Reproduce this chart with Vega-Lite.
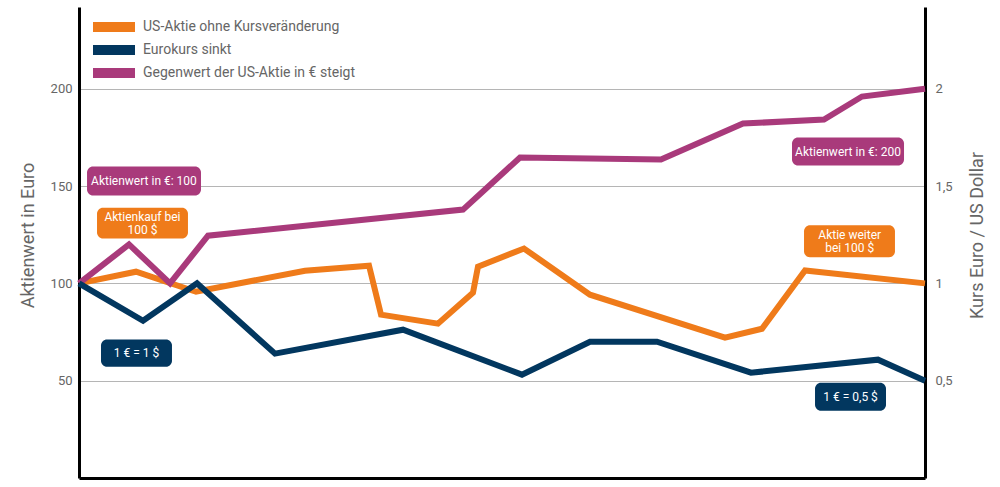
{
  "$schema": "https://vega.github.io/schema/vega-lite/v6.json",
  "width": 846,
  "height": 471,
  "autosize": {"type": "none"},
  "padding": {"left": 79, "top": 7, "right": 75, "bottom": 9},
  "background": "white",
  "config": {
    "view": {"stroke": null},
    "font": "Roboto",
    "axis": {
      "labelFont": "Roboto", "titleFont": "Roboto",
      "labelColor": "#666666", "titleColor": "#666666",
      "labelFontSize": 13, "titleFontSize": 18, "titleFontWeight": "normal",
      "domainColor": "#000000", "domainWidth": 3, "ticks": false,
      "gridColor": "#b5b5b5", "gridWidth": 1
    },
    "axisX": {"labels": false, "grid": false, "title": null},
    "legend": {"labelFont": "Roboto"}
  },
  "datasets": {
    "lines": [
      {"series": "US-Aktie ohne Kursveränderung", "t": 0, "v": 100},
      {"series": "US-Aktie ohne Kursveränderung", "t": 6.74, "v": 106},
      {"series": "US-Aktie ohne Kursveränderung", "t": 13.83, "v": 95.7},
      {"series": "US-Aktie ohne Kursveränderung", "t": 26.71, "v": 106.5},
      {"series": "US-Aktie ohne Kursveränderung", "t": 34.28, "v": 109.1},
      {"series": "US-Aktie ohne Kursveränderung", "t": 35.7, "v": 83.9},
      {"series": "US-Aktie ohne Kursveränderung", "t": 42.43, "v": 79.3},
      {"series": "US-Aktie ohne Kursveränderung", "t": 46.57, "v": 95.2},
      {"series": "US-Aktie ohne Kursveränderung", "t": 47.16, "v": 108.6},
      {"series": "US-Aktie ohne Kursveränderung", "t": 52.6, "v": 117.9},
      {"series": "US-Aktie ohne Kursveränderung", "t": 60.4, "v": 94.2},
      {"series": "US-Aktie ohne Kursveränderung", "t": 76.36, "v": 72.1},
      {"series": "US-Aktie ohne Kursveränderung", "t": 80.73, "v": 76.7},
      {"series": "US-Aktie ohne Kursveränderung", "t": 85.82, "v": 106.6},
      {"series": "US-Aktie ohne Kursveränderung", "t": 100, "v": 100},
      {"series": "Gegenwert der US-Aktie in € steigt", "t": 0, "v": 100},
      {"series": "Gegenwert der US-Aktie in € steigt", "t": 5.91, "v": 120},
      {"series": "Gegenwert der US-Aktie in € steigt", "t": 10.76, "v": 100},
      {"series": "Gegenwert der US-Aktie in € steigt", "t": 15.25, "v": 124.5},
      {"series": "Gegenwert der US-Aktie in € steigt", "t": 45.39, "v": 137.9},
      {"series": "Gegenwert der US-Aktie in € steigt", "t": 52.13, "v": 164.7},
      {"series": "Gegenwert der US-Aktie in € steigt", "t": 68.79, "v": 163.6},
      {"series": "Gegenwert der US-Aktie in € steigt", "t": 78.49, "v": 182.1},
      {"series": "Gegenwert der US-Aktie in € steigt", "t": 88.06, "v": 184.2},
      {"series": "Gegenwert der US-Aktie in € steigt", "t": 92.55, "v": 196},
      {"series": "Gegenwert der US-Aktie in € steigt", "t": 100, "v": 200}
    ],
    "fx": [
      {"series": "Eurokurs sinkt", "t": 0, "rate": 1.0},
      {"series": "Eurokurs sinkt", "t": 7.57, "rate": 0.808},
      {"series": "Eurokurs sinkt", "t": 13.95, "rate": 1.0},
      {"series": "Eurokurs sinkt", "t": 23.17, "rate": 0.639},
      {"series": "Eurokurs sinkt", "t": 38.3, "rate": 0.762},
      {"series": "Eurokurs sinkt", "t": 52.36, "rate": 0.531},
      {"series": "Eurokurs sinkt", "t": 60.4, "rate": 0.7},
      {"series": "Eurokurs sinkt", "t": 68.32, "rate": 0.7},
      {"series": "Eurokurs sinkt", "t": 79.43, "rate": 0.541},
      {"series": "Eurokurs sinkt", "t": 94.44, "rate": 0.608},
      {"series": "Eurokurs sinkt", "t": 100, "rate": 0.5}
    ],
    "notes": [
      {"label": "Aktienwert in €: 100", "series": "Gegenwert der US-Aktie in € steigt", "x1": 0.95, "x2": 14.42, "y1": 145.1, "y2": 160.0, "tx": 7.68, "ty": 152.6},
      {"label": "Aktienkauf bei|100 $", "series": "US-Aktie ohne Kursveränderung", "x1": 2.13, "x2": 12.88, "y1": 123.0, "y2": 138.9, "tx": 7.5, "ty": 134.3},
      {"label": "1 € = 1 $", "series": "Eurokurs sinkt", "x1": 2.6, "x2": 10.99, "y1": 57.2, "y2": 71.1, "tx": 6.8, "ty": 64.1},
      {"label": "1 € = 0,5 $", "series": "Eurokurs sinkt", "x1": 87.0, "x2": 95.39, "y1": 34.6, "y2": 49.0, "tx": 91.2, "ty": 41.8},
      {"label": "Aktienwert in €: 200", "series": "Gegenwert der US-Aktie in € steigt", "x1": 84.28, "x2": 97.52, "y1": 160.5, "y2": 174.9, "tx": 90.9, "ty": 167.7},
      {"label": "Aktie weiter|bei 100 $", "series": "US-Aktie ohne Kursveränderung", "x1": 85.7, "x2": 96.45, "y1": 113.4, "y2": 129.8, "tx": 91.1, "ty": 124.9}
    ]
  },
  "layer": [
    {
      "layer": [
        {
          "data": {"name": "lines"},
          "mark": {"type": "line", "strokeWidth": 6, "strokeJoin": "miter", "strokeCap": "butt"},
          "encoding": {
            "x": {"field": "t", "type": "quantitative", "scale": {"domain": [0, 100], "nice": false, "zero": false}},
            "y": {"field": "v", "type": "quantitative", "scale": {"domain": [0, 242], "nice": false},
              "axis": {"orient": "left", "values": [50, 100, 150, 200], "grid": true, "labelPadding": 7,
                "title": "Aktienwert in Euro", "titleAngle": -90, "titleX": -46, "titleY": 228, "titleAlign": "center", "titleBaseline": "alphabetic"}},
            "stroke": {"field": "series", "type": "nominal",
              "scale": {"domain": ["US-Aktie ohne Kursveränderung", "Eurokurs sinkt", "Gegenwert der US-Aktie in € steigt"], "range": ["#EF7B1A", "#02375F", "#A93A7B"]},
              "legend": {"title": null, "orient": "none", "legendX": 19.5, "legendY": 4.5, "padding": 0,
                "symbolType": "M-2,0H2", "symbolSize": 441, "symbolStrokeWidth": 10,
                "labelFontSize": 14, "labelColor": "#666666", "labelOffset": 13.5, "labelLimit": 500, "rowPadding": -4.5,
                "encode": {"symbols": {"update": {"strokeJoin": {"value": "bevel"}, "strokeCap": {"value": "butt"}}}}}},
            "detail": {"field": "series"}
          }
        },
        {
          "data": {"name": "notes"},
          "mark": {"type": "rect", "cornerRadius": 6},
          "encoding": {
            "x": {"field": "x1", "type": "quantitative"},
            "x2": {"field": "x2"},
            "y": {"field": "y1", "type": "quantitative"},
            "y2": {"field": "y2"},
            "fill": {"field": "series", "type": "nominal",
              "scale": {"domain": ["US-Aktie ohne Kursveränderung", "Eurokurs sinkt", "Gegenwert der US-Aktie in € steigt"], "range": ["#EF7B1A", "#02375F", "#A93A7B"]},
              "legend": null}
          }
        },
        {
          "data": {"name": "notes"},
          "mark": {"type": "text", "color": "white", "fontSize": 12, "font": "Roboto", "align": "center", "baseline": "middle", "lineBreak": "|", "lineHeight": 13},
          "encoding": {
            "x": {"field": "tx", "type": "quantitative"},
            "y": {"field": "ty", "type": "quantitative"},
            "text": {"field": "label"}
          }
        }
      ]
    },
    {
      "data": {"name": "fx"},
      "mark": {"type": "line", "strokeWidth": 6, "strokeJoin": "miter", "strokeCap": "butt"},
      "encoding": {
        "x": {"field": "t", "type": "quantitative", "scale": {"domain": [0, 100], "nice": false, "zero": false}},
        "y": {"field": "rate", "type": "quantitative", "scale": {"domain": [0, 2.42], "nice": false},
          "axis": {"orient": "right", "values": [0.5, 1, 1.5, 2], "grid": false, "labelPadding": 10,
            "labelExpr": "replace(format(datum.value, ''), '.', ',')",
            "title": "Kurs Euro / US Dollar", "titleAngle": -90, "titleX": 57, "titleY": 228, "titleAlign": "center", "titleBaseline": "alphabetic"}},
        "stroke": {"field": "series", "type": "nominal"}
      }
    }
  ],
  "resolve": {"scale": {"y": "independent"}}
}
